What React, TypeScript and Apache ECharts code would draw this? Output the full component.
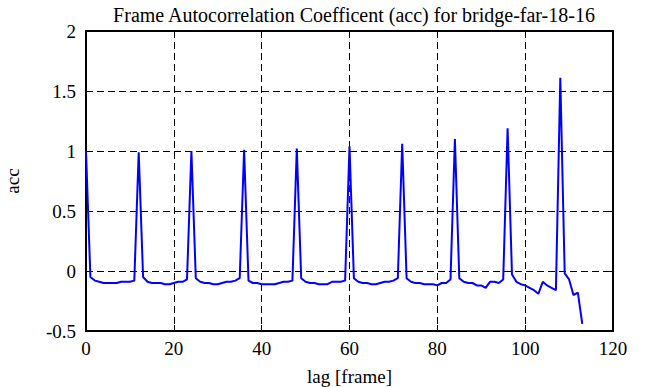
import React, { useEffect, useRef } from "react";
import * as echarts from "echarts";

const lags: number[] = Array.from({ length: 114 }, (_, i) => i);
const acc: number[] = [
  1.0, -0.05, -0.08, -0.09, -0.1, -0.1, -0.1, -0.1, -0.09, -0.09, -0.09, -0.08,
  0.99, -0.05, -0.09, -0.1, -0.1, -0.1, -0.11, -0.11, -0.1, -0.09, -0.09, -0.07,
  1.0, -0.06, -0.09, -0.1, -0.1, -0.11, -0.11, -0.1, -0.09, -0.09, -0.08, -0.06,
  1.01, -0.08, -0.1, -0.1, -0.11, -0.11, -0.11, -0.11, -0.1, -0.09, -0.09, -0.08,
  1.02, -0.06, -0.09, -0.1, -0.1, -0.11, -0.11, -0.11, -0.09, -0.09, -0.09, -0.08,
  1.04, -0.06, -0.09, -0.1, -0.1, -0.11, -0.11, -0.1, -0.09, -0.09, -0.08, -0.06,
  1.06, -0.06, -0.09, -0.1, -0.1, -0.11, -0.11, -0.11, -0.12, -0.1, -0.1, -0.07,
  1.1, -0.06, -0.09, -0.1, -0.1, -0.12, -0.12, -0.14, -0.09, -0.09, -0.1, -0.07,
  1.19, -0.03, -0.09, -0.11, -0.12, -0.14, -0.16, -0.19, -0.09, -0.12, -0.14, -0.16,
  1.61, -0.02, -0.07, -0.2, -0.18, -0.44,
];

const titleText = "Frame Autocorrelation Coefficent (acc) for bridge-far-18-16";
const xName = "lag [frame]";
const yName = "acc";

const FONT = "Liberation Serif";

export default function App() {
  const ref = useRef<HTMLDivElement>(null);
  useEffect(() => {
    if (!ref.current) return;
    const chart = echarts.init(ref.current, null, { renderer: "svg" });
    const dash = { type: [7, 4] as number[], color: "#000", width: 1 };
    const axisLine = { show: true, onZero: false, lineStyle: { color: "#000", width: 2 } };
    const tick = { show: true, inside: true, length: 6, lineStyle: { color: "#000", width: 1 } };
    chart.setOption({
      animation: false,
      backgroundColor: "#fff",
      textStyle: { fontFamily: FONT, fontSize: 19 },
      title: {
        text: titleText,
        left: 349,
        textAlign: "center",
        top: 0,
        textStyle: { fontFamily: FONT, fontSize: 20, fontWeight: "normal", color: "#000" },
      },
      grid: { left: 86, right: 43, top: 31, bottom: 56, outerBoundsMode: "none", containLabel: false },
      xAxis: [
        {
          type: "value",
          min: 0,
          max: 120,
          interval: 20,
          name: xName,
          nameLocation: "middle",
          nameGap: 36,
          nameTextStyle: { fontFamily: FONT, fontSize: 19, color: "#000" },
          axisLine,
          axisTick: tick,
          axisLabel: { color: "#000", fontFamily: FONT, fontSize: 19, margin: 8 },
          splitLine: { show: true, lineStyle: dash },
        },
        {
          type: "value",
          position: "top",
          min: 0,
          max: 120,
          interval: 20,
          axisLine,
          axisTick: tick,
          axisLabel: { show: false },
          splitLine: { show: false },
        },
      ],
      yAxis: [
        {
          type: "value",
          min: -0.5,
          max: 2,
          interval: 0.5,
          name: yName,
          nameLocation: "middle",
          nameGap: 64,
          nameRotate: 90,
          nameTextStyle: { fontFamily: FONT, fontSize: 19, color: "#000" },
          axisLine,
          axisTick: tick,
          axisLabel: { color: "#000", fontFamily: FONT, fontSize: 19, margin: 10 },
          splitLine: { show: true, lineStyle: dash },
        },
        {
          type: "value",
          position: "right",
          min: -0.5,
          max: 2,
          interval: 0.5,
          axisLine,
          axisTick: tick,
          axisLabel: { show: false },
          splitLine: { show: false },
        },
      ],
      series: [
        {
          type: "line",
          data: lags.map((l, i) => [l, acc[i]]),
          showSymbol: false,
          symbol: "none",
          lineStyle: { color: "#0000ff", width: 2 },
          silent: true,
        },
      ],
    });
    return () => chart.dispose();
  }, []);
  return (
    <div
      ref={ref}
      style={{ position: "fixed", left: 0, top: 0, width: 656, height: 387 }}
    />
  );
}
